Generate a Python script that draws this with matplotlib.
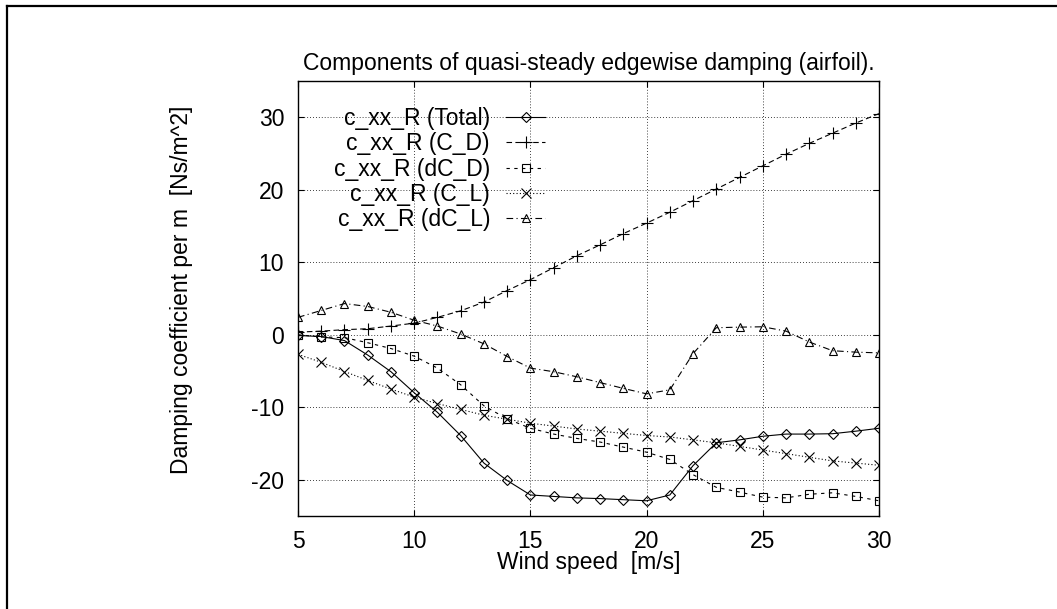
import matplotlib
matplotlib.use("Agg")
import matplotlib.pyplot as plt
from matplotlib.lines import Line2D

plt.rcParams['font.family'] = ['Liberation Sans', 'DejaVu Sans']
plt.rcParams['axes.unicode_minus'] = False

wind = list(range(5, 31))
total = [-0.1, -0.25, -0.8, -2.8, -5.1, -8.0, -10.7, -13.9, -17.7, -20.1, -22.1,
         -22.3, -22.5, -22.6, -22.75, -22.9, -22.1, -18.05, -14.9, -14.5, -14.0,
         -13.7, -13.7, -13.65, -13.3, -12.9]
c_d = [0.36, 0.5, 0.7, 0.83, 1.2, 1.6, 2.4, 3.3, 4.5, 6.1, 7.6,
       9.25, 10.9, 12.4, 13.95, 15.4, 16.9, 18.5, 20.1, 21.7, 23.3,
       24.9, 26.4, 27.8, 29.2, 30.5]
dc_d = [0.0, -0.3, -0.4, -1.1, -1.9, -2.95, -4.6, -6.9, -9.8, -11.6, -12.9,
        -13.7, -14.3, -14.8, -15.5, -16.2, -17.2, -19.3, -21.05, -21.7, -22.4,
        -22.5, -22.0, -21.8, -22.3, -22.9]
c_l = [-2.7, -3.8, -5.07, -6.3, -7.5, -8.6, -9.5, -10.3, -11.1, -11.65, -12.2,
       -12.6, -13.0, -13.3, -13.6, -13.9, -14.1, -14.5, -14.9, -15.4, -15.9,
       -16.4, -16.9, -17.4, -17.7, -18.0]
dc_l = [2.4, 3.35, 4.3, 3.9, 3.1, 2.0, 1.2, 0.1, -1.25, -3.0, -4.6,
        -5.1, -5.8, -6.6, -7.4, -8.15, -7.6, -2.6, 0.97, 1.05, 1.1,
        0.5, -1.0, -2.2, -2.4, -2.5]

labels = ["c_xx_R (Total)", "c_xx_R (C_D)", "c_xx_R (dC_D)", "c_xx_R (C_L)", "c_xx_R (dC_L)"]
xticks = [5, 10, 15, 20, 25, 30]
yticks = [-20, -10, 0, 10, 20, 30]

W, H = 1057, 609
fig = plt.figure(figsize=(W / 100, H / 100), dpi=100)
L, R, T, B = 298, 879, 81, 516
ax = fig.add_axes([L / W, 1 - B / H, (R - L) / W, (B - T) / H])

fs = 16.5
lw = 0.8
mk = dict(color='black', mfc='none', mec='black', mew=0.8, lw=lw)
ax.plot(wind, total, linestyle='-', marker='D', ms=5, label=labels[0], **mk)
ax.plot(wind, c_d, linestyle=(0, (5, 3)), marker='+', ms=8, label=labels[1], **mk)
ax.plot(wind, dc_d, linestyle=(0, (3, 4)), marker='s', ms=6, label=labels[2], **mk)
ax.plot(wind, c_l, linestyle=(0, (1, 2)), marker='x', ms=7, label=labels[3], **mk)
ax.plot(wind, dc_l, linestyle=(0, (6, 3, 1, 3)), marker='^', ms=6, label=labels[4], **mk)

ax.set_xlim(5, 30)
ax.set_ylim(-25, 35)
ax.set_xticks(xticks)
ax.set_yticks(yticks)
ax.tick_params(direction='in', top=True, right=True, length=4, width=0.8,
               labelsize=fs, pad=10)
ax.grid(True, color='black', linestyle=(0, (1, 2.5)), linewidth=0.6)
for s in ax.spines.values():
    s.set_linewidth(1.0)

ax.set_title("Components of quasi-steady edgewise damping (airfoil).", fontsize=fs, pad=8)
ax.set_xlabel("Wind speed  [m/s]", fontsize=fs)
ax.set_ylabel("Damping coefficient per m  [Ns/m^2]", fontsize=fs)
ax.xaxis.set_label_coords(0.5, -0.108)
ax.xaxis.label.set_va('center')
ax.yaxis.set_label_coords(-0.2, 0.52)
ax.yaxis.label.set_va('center')

leg = ax.legend(loc='upper right', bbox_to_anchor=((545 - L) / (R - L), (B - 107) / (B - T)),
                frameon=False, markerfirst=False, fontsize=fs, handlelength=1.7,
                handletextpad=0.7, labelspacing=0.1, borderpad=0, borderaxespad=0)

# outer frame (top and left edges visible)
fig.add_artist(Line2D([7 / W, 1], [1 - 5.5 / H, 1 - 5.5 / H], transform=fig.transFigure,
                      color='black', lw=1.6))
fig.add_artist(Line2D([7 / W, 7 / W], [0, 1 - 5.5 / H], transform=fig.transFigure,
                      color='black', lw=1.6))

fig.savefig("out.png", dpi=100)
